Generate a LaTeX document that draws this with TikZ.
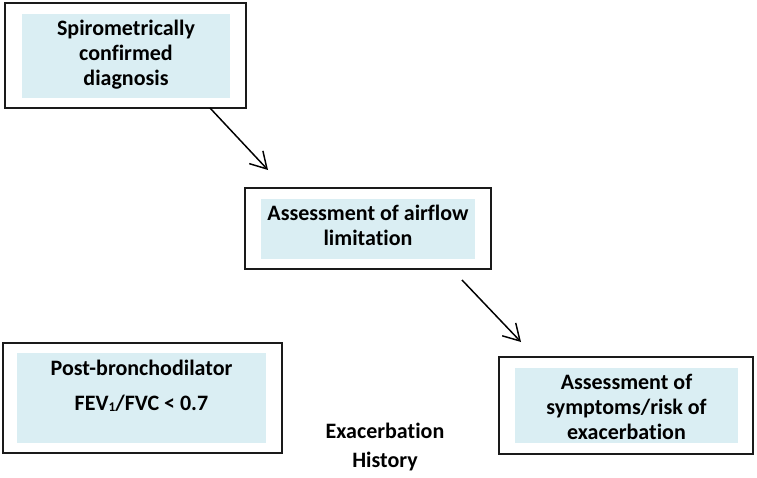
\documentclass[tikz,border=0pt]{standalone}
\usepackage{fontspec}
\setmainfont{Carlito}[Ligatures=NoCommon]
\usetikzlibrary{arrows.meta}
\definecolor{boxfill}{HTML}{DAEEF3}
\definecolor{boxline}{HTML}{1A1A1A}
\tikzset{
  outerbox/.style={draw=boxline, line width=1.1pt, fill=white, minimum width=#1, inner sep=0pt},
  innerbox/.style={fill=boxfill, inner sep=0pt},
  label/.style={font=\fontsize{16.5}{18.75}\selectfont\bfseries, align=center, inner sep=0pt},
  flowarrow/.style={line width=1.1pt, -{Straight Barb[length=12pt, width=14pt, line width=1.1pt]}}
}
\newcommand{\subone}{\raisebox{-1pt}{\fontsize{10}{10}\selectfont 1}}
\begin{document}
\begin{tikzpicture}[x=0.75pt, y=-0.75pt]
\useasboundingbox (0,0) rectangle (757,478);
% Box 1
\node[outerbox=180.75pt, minimum height=78.75pt] (b1) at (125.5,55.5) {};
\node[innerbox, minimum width=156pt, minimum height=63pt] (i1) at (126,56) {};
\node[label] (t1) at (126,54.5) {Spirometrically\\confirmed\\diagnosis};
% Box 2
\node[outerbox=184.5pt, minimum height=60.75pt] (b2) at (368,228.5) {};
\node[innerbox, minimum width=160.5pt, minimum height=45pt] (i2) at (368,229) {};
\node[label] (t2) at (368,225.5) {Assessment of airflow\\limitation};
% Box 3
\node[outerbox=209.25pt, minimum height=82.5pt] (b3) at (142.5,398) {};
\node[innerbox, minimum width=186.75pt, minimum height=67.5pt] (i3) at (141.5,398) {};
\node[label, font=\fontsize{16.5}{26.25}\selectfont\bfseries] (t3) at (141.5,385.5) {Post-bronchodilator\\FEV\subone/FVC < 0.7};
% Box 4
\node[outerbox=190.5pt, minimum height=72.75pt] (b4) at (626,405.5) {};
\node[innerbox, minimum width=167.25pt, minimum height=56.25pt] (i4) at (626.5,405.5) {};
\node[label] (t4) at (626.5,407) {Assessment of\\symptoms/risk of\\exacerbation};
% Free label
\node[label, font=\fontsize{16.5}{21.75}\selectfont\bfseries] (t5) at (385,447.5) {Exacerbation\\History};
% Arrows
\coordinate (a1s) at (210,108);
\coordinate (a1e) at (268,170);
\coordinate (a2s) at (462,280);
\coordinate (a2e) at (521,342);
\draw[flowarrow] (a1s) -- (a1e);
\draw[flowarrow] (a2s) -- (a2e);
\end{tikzpicture}
\end{document}
